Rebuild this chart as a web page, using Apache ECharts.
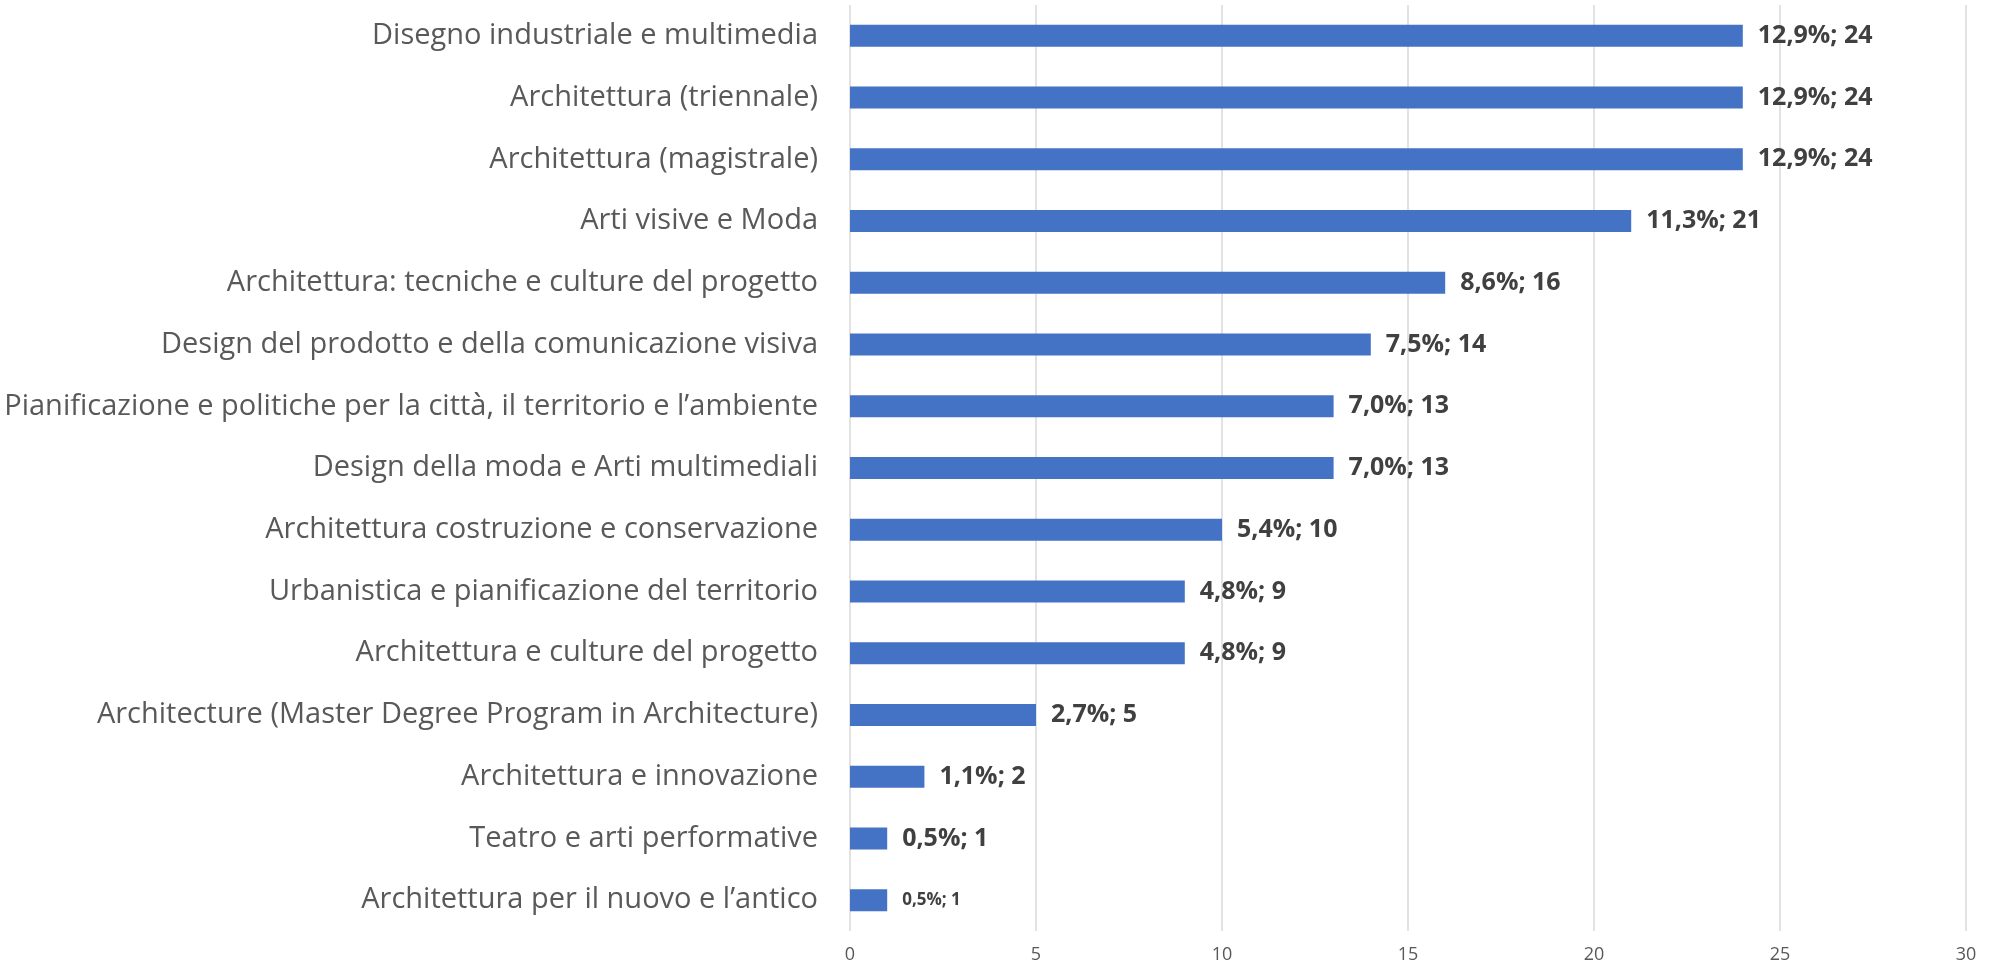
<!DOCTYPE html>
<html>
<head>
<meta charset="utf-8">
<script src="https://cdn.jsdelivr.net/npm/echarts@6/dist/echarts.min.js"></script>
<style>
html, body { margin: 0; padding: 0; background: #fff; }
#main { width: 1995px; height: 969px; }
</style>
</head>
<body>
<div id="main"></div>
<script>
var categories = [
    'Disegno industriale e multimedia',
    'Architettura (triennale)',
    'Architettura (magistrale)',
    'Arti visive e Moda',
    'Architettura: tecniche e culture del progetto',
    'Design del prodotto e della comunicazione visiva',
    'Pianificazione e politiche per la città, il territorio e l’ambiente',
    'Design della moda e Arti multimediali',
    'Architettura costruzione e conservazione',
    'Urbanistica e pianificazione del territorio',
    'Architettura e culture del progetto',
    'Architecture (Master Degree Program in Architecture)',
    'Architettura e innovazione',
    'Teatro e arti performative',
    'Architettura per il nuovo e l’antico'
];
var counts = [24, 24, 24, 21, 16, 14, 13, 13, 10, 9, 9, 5, 2, 1, 1];
var percents = ['12,9%', '12,9%', '12,9%', '11,3%', '8,6%', '7,5%', '7,0%', '7,0%', '5,4%', '4,8%', '4,8%', '2,7%', '1,1%', '0,5%', '0,5%'];
var xTicks = { min: 0, max: 30, interval: 5 };

var chartDom = document.getElementById('main');
var myChart = echarts.init(chartDom);
var option;

var barData = counts.map(function (v, i) {
    var item = { value: v };
    // l'ultima etichetta è più piccola nell'originale
    if (i === counts.length - 1) {
        item.label = { fontSize: 17 };
    }
    return item;
});

option = {
    animation: false,
    textStyle: { fontFamily: 'Open Sans' },
    grid: {
        left: 850,
        right: 29,
        top: 5,
        bottom: 38
    },
    xAxis: {
        type: 'value',
        min: xTicks.min,
        max: xTicks.max,
        interval: xTicks.interval,
        axisLine: { show: false },
        axisTick: { show: false },
        axisLabel: { color: '#595959', fontSize: 18, margin: 15 },
        splitLine: { lineStyle: { color: '#d9d9d9', width: 1.5 } }
    },
    yAxis: {
        type: 'category',
        inverse: true,
        data: categories,
        axisLine: { show: false },
        axisTick: { show: false },
        axisLabel: { color: '#595959', fontSize: 29, margin: 32 }
    },
    series: [
        {
            type: 'bar',
            data: barData,
            barWidth: 22,
            itemStyle: { color: '#4472c4' },
            label: {
                show: true,
                position: 'right',
                distance: 15,
                color: '#404040',
                fontWeight: 'bold',
                fontSize: 25,
                formatter: function (p) {
                    return percents[p.dataIndex] + '; ' + p.value;
                }
            }
        }
    ]
};

option && myChart.setOption(option);
window.onresize = function () {
    myChart.resize();
};
</script>
</body>
</html>
